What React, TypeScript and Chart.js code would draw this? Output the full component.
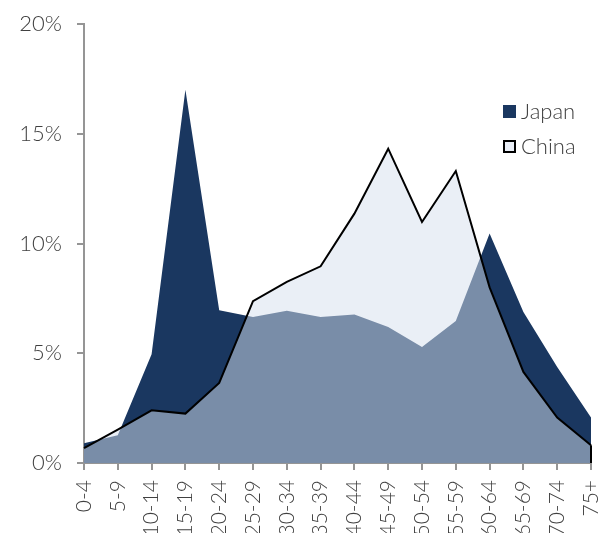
import React, { useEffect, useRef } from "react";
import { Chart, registerables } from "chart.js";

Chart.register(...registerables);

const AGE_GROUPS = [
  "0-4", "5-9", "10-14", "15-19", "20-24", "25-29", "30-34", "35-39",
  "40-44", "45-49", "50-54", "55-59", "60-64", "65-69", "70-74", "75+",
];

// Share of population in each age band, percent
const JAPAN = [0.9, 1.26, 4.95, 17.0, 6.96, 6.65, 6.94, 6.65, 6.76, 6.2, 5.29, 6.47, 10.45, 6.88, 4.37, 2.07];
const CHINA = [0.68, 1.52, 2.4, 2.25, 3.65, 7.37, 8.25, 8.96, 11.36, 14.32, 10.98, 13.3, 8.0, 4.15, 2.07, 0.81];

const Y_TICKS = [0, 5, 10, 15, 20];

const FONT_FAMILY = "Lato, 'Open Sans', sans-serif";
const TEXT_COLOR = "#404040";
const AXIS_COLOR = "#959595";
const JAPAN_COLOR = "#1a3760";
const CHINA_FILL = "rgba(214, 224, 237, 0.51)";
const CHINA_SWATCH = "#e9eef6";

const legendEntries = [
  { label: "Japan", fill: JAPAN_COLOR, stroke: null as string | null },
  { label: "China", fill: CHINA_SWATCH, stroke: "#000000" },
];

// Closes the outlined series down to the baseline at its last point
const endDropPlugin = {
  id: "endDrop",
  afterDatasetsDraw(chart: any) {
    const meta = chart.getDatasetMeta(0);
    const pts = meta.data;
    if (!pts.length) return;
    const last = pts[pts.length - 1];
    const y0 = chart.scales.y.getPixelForValue(0);
    const ctx = chart.ctx;
    ctx.save();
    ctx.strokeStyle = "#000000";
    ctx.lineWidth = 2;
    ctx.beginPath();
    ctx.moveTo(last.x, last.y);
    ctx.lineTo(last.x, y0);
    ctx.stroke();
    ctx.restore();
  },
};

const legendPlugin = {
  id: "cornerLegend",
  afterDraw(chart: any) {
    const ctx = chart.ctx;
    const x = chart.chartArea.right - 88;
    const y = 105;
    ctx.save();
    ctx.font = `300 22px ${FONT_FAMILY}`;
    ctx.textBaseline = "middle";
    ctx.textAlign = "left";
    legendEntries.forEach((e, i) => {
      const top = y + i * 35;
      ctx.fillStyle = e.fill;
      ctx.fillRect(x, top, 13, 13);
      if (e.stroke) {
        ctx.strokeStyle = e.stroke;
        ctx.lineWidth = 2;
        ctx.strokeRect(x + 1, top + 1, 11, 11);
      }
      ctx.fillStyle = TEXT_COLOR;
      ctx.fillText(e.label, x + 18, top + 7);
    });
    ctx.restore();
  },
};

export default function App() {
  const canvasRef = useRef<HTMLCanvasElement | null>(null);

  useEffect(() => {
    document.body.style.margin = "0";
    const canvas = canvasRef.current;
    if (!canvas) return;

    const chart = new Chart(canvas, {
      type: "line",
      data: {
        labels: AGE_GROUPS,
        datasets: [
          {
            label: "China",
            data: CHINA,
            fill: "origin",
            backgroundColor: CHINA_FILL,
            borderColor: "#000000",
            borderWidth: 2,
            pointRadius: 0,
            tension: 0,
            order: 1,
          },
          {
            label: "Japan",
            data: JAPAN,
            fill: "origin",
            backgroundColor: JAPAN_COLOR,
            borderColor: JAPAN_COLOR,
            borderWidth: 0,
            pointRadius: 0,
            tension: 0,
            order: 2,
          },
        ],
      },
      options: {
        responsive: false,
        animation: false,
        layout: { padding: { top: 24, right: 15, left: 0, bottom: 0 } },
        plugins: {
          legend: { display: false },
          tooltip: { enabled: false },
        },
        scales: {
          x: {
            type: "category",
            offset: false,
            grid: {
              display: true,
              drawOnChartArea: false,
              drawTicks: true,
              tickLength: 7,
              color: AXIS_COLOR,
              lineWidth: 2,
            },
            border: { display: true, color: AXIS_COLOR, width: 2 },
            ticks: {
              autoSkip: false,
              maxRotation: 90,
              minRotation: 90,
              padding: 10,
              color: TEXT_COLOR,
              font: { family: FONT_FAMILY, size: 21, weight: "300" },
            },
            afterFit(scale: any) {
              scale.height = 70;
              scale.paddingLeft = 0;
              scale.paddingRight = 0;
            },
          },
          y: {
            min: 0,
            max: 20,
            afterBuildTicks(scale: any) {
              scale.ticks = Y_TICKS.map((v) => ({ value: v }));
            },
            grid: {
              display: true,
              drawOnChartArea: false,
              drawTicks: true,
              tickLength: 7,
              color: AXIS_COLOR,
              lineWidth: 2,
            },
            border: { display: true, color: AXIS_COLOR, width: 2 },
            ticks: {
              padding: 15,
              color: TEXT_COLOR,
              font: { family: FONT_FAMILY, size: 22, weight: "300" },
              callback: (v: any) => `${v}%`,
            },
            afterFit(scale: any) {
              scale.width = 84;
              scale.paddingTop = 0;
              scale.paddingBottom = 0;
            },
          },
        },
      },
      plugins: [endDropPlugin, legendPlugin],
    });

    return () => chart.destroy();
  }, []);

  return (
    <div style={{ width: 606, height: 533 }}>
      <canvas ref={canvasRef} width={606} height={533} />
    </div>
  );
}
